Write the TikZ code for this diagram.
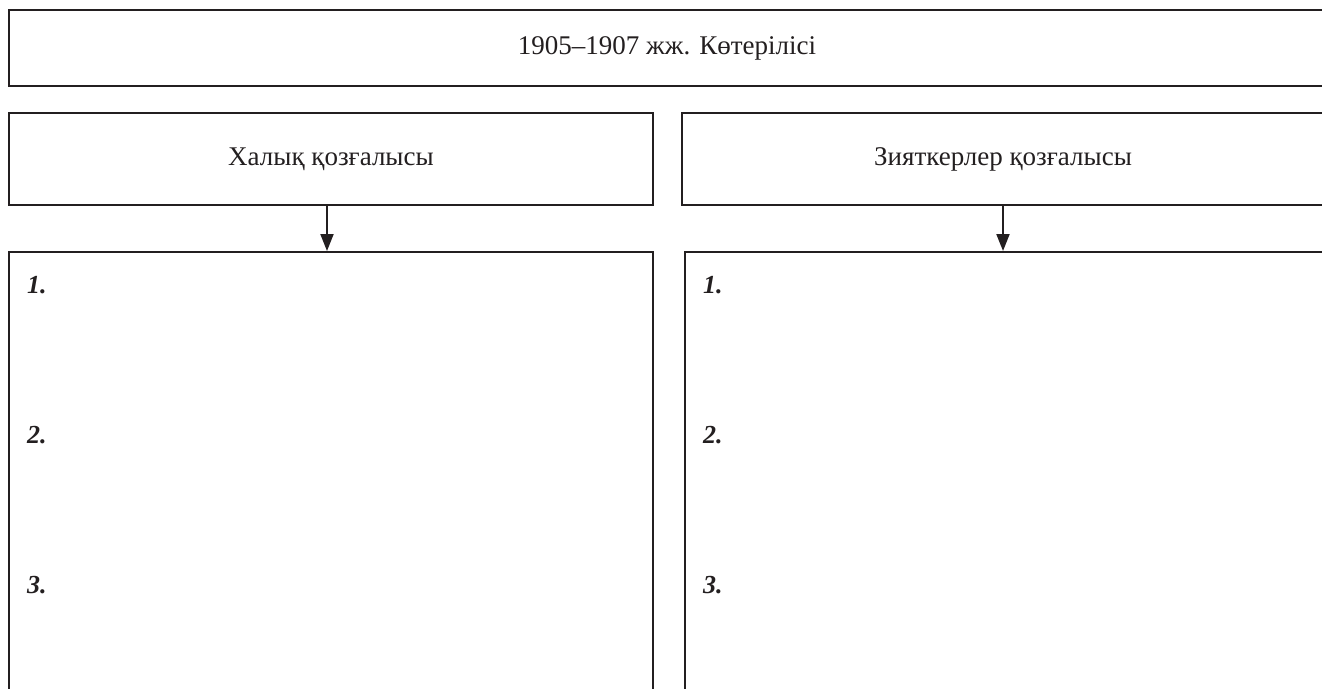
\documentclass[tikz,border=0pt]{standalone}
\usepackage{fontspec}
\setmainfont{Liberation Serif}
\usetikzlibrary{arrows.meta}
\definecolor{ink}{HTML}{231F20}
\tikzset{
  frame/.style={draw=ink, line width=2pt, inner sep=0pt, font=\fontsize{27}{31}\selectfont, text=ink},
  num/.style={anchor=base west, inner sep=0pt, font=\fontsize{26}{30}\selectfont\bfseries\itshape, text=ink},
  arr/.style={draw=ink, line width=2pt, -{Triangle[length=17pt,width=13pt]}}
}
\begin{document}
\begin{tikzpicture}[x=1pt,y=-1pt]
\useasboundingbox (0,0) rectangle (1322,688);
\clip (0,0) rectangle (1322,688);
\node[frame, minimum width=1316pt, minimum height=76pt] (top) at (667,48) {1905–1907 жж. Көтерілісі};
\node[frame, minimum width=644pt, minimum height=92pt] (hl) at (331,159) {Халық қозғалысы};
\node[frame, minimum width=642pt, minimum height=92pt] (zk) at (1003,159) {Зияткерлер қозғалысы};
\node[frame, minimum width=644pt, minimum height=460pt] (lb) at (331,482) {};
\node[frame, minimum width=640pt, minimum height=460pt] (rb) at (1005,482) {};
\draw[arr] ([xshift=-4pt]hl.south) -- ([xshift=-4pt]hl.south |- lb.north);
\draw[arr] (zk.south) -- (zk.south |- rb.north);
\node[num] (l1) at (27,293) {1.};
\node[num] (l2) at (27,443) {2.};
\node[num] (l3) at (27,593) {3.};
\node[num] (r1) at (703,293) {1.};
\node[num] (r2) at (703,443) {2.};
\node[num] (r3) at (703,593) {3.};
\end{tikzpicture}
\end{document}
